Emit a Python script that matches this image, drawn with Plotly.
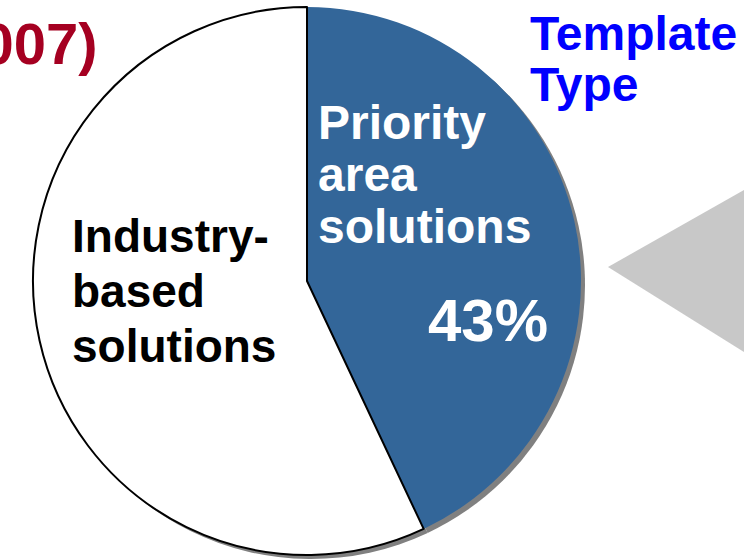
import plotly.graph_objects as go

# ---- data ----
segments = ["Priority area solutions", "Industry-based solutions"]
shares = [43, 57]
slice_colors = ["#336699", "#FFFFFF"]
title_right = ["Template", "Type"]
title_left = "(2007)"
priority_lines = ["Priority", "area", "solutions"]
industry_lines = ["Industry-", "based", "solutions"]
pct_label = "43%"

W, H = 744, 560
FONT = "Arial, Liberation Sans, Helvetica, sans-serif"

def px(x):
    return x / W

def py(y):
    return 1 - y / H

cx, cy, r = 307, 281, 274
sh = 4  # shadow offset

fig = go.Figure()

# shadow pie
fig.add_trace(go.Pie(
    labels=segments, values=shares, sort=False, direction="clockwise", rotation=0,
    marker=dict(colors=["#808080", "#808080"], line=dict(width=0)),
    textinfo="none", hoverinfo="skip", showlegend=False,
    domain=dict(x=[px(cx - r + sh), px(cx + r + sh)], y=[py(cy + r + sh), py(cy - r + sh)]),
))

# main pie
fig.add_trace(go.Pie(
    labels=segments, values=shares, sort=False, direction="clockwise", rotation=0,
    marker=dict(colors=slice_colors, line=dict(color=["#336699", "#000000"], width=[0, 2])),
    textinfo="none", hoverinfo="label+percent", showlegend=False,
    domain=dict(x=[px(cx - r), px(cx + r)], y=[py(cy + r), py(cy - r)]),
))

# gray callout triangle
fig.add_shape(
    type="path", xref="paper", yref="paper",
    path=f"M {px(608)},{py(267)} L {px(744)},{py(190)} L {px(744)},{py(352)} Z",
    fillcolor="#C8C8C8", line=dict(width=0), layer="below",
)

annotations = []
# Template Type
for i, t in enumerate(title_right):
    annotations.append(dict(text=f"<b>{t}</b>", x=px(528), y=py(33 + i * 51), xanchor="left", yanchor="middle",
                            font=dict(family=FONT, size=48, color="#0000FF")))
# (2007) cut on left
annotations.append(dict(text=f"<b>{title_left}</b>", x=px(100), y=py(44), xanchor="right", yanchor="middle",
                        font=dict(family=FONT, size=58, color="#A50021")))
# Priority area solutions
for i, t in enumerate(priority_lines):
    annotations.append(dict(text=f"<b>{t}</b>", x=px(316), y=py(122 + i * 52), xanchor="left", yanchor="middle",
                            font=dict(family=FONT, size=48, color="#FFFFFF")))
# Industry-based solutions
for i, t in enumerate(industry_lines):
    annotations.append(dict(text=f"<b>{t}</b>", x=px(70), y=py(236 + i * 55), xanchor="left", yanchor="middle",
                            font=dict(family=FONT, size=46, color="#000000")))
# 43%
annotations.append(dict(text=f"<b>{pct_label}</b>", x=px(488), y=py(320), xanchor="center", yanchor="middle",
                        font=dict(family=FONT, size=60, color="#FFFFFF")))

fig.update_layout(
    width=W, height=H, margin=dict(l=0, r=0, t=0, b=0),
    paper_bgcolor="white", plot_bgcolor="white",
    annotations=[dict(a, showarrow=False, xref="paper", yref="paper") for a in annotations],
)

fig.write_html("out.html")
